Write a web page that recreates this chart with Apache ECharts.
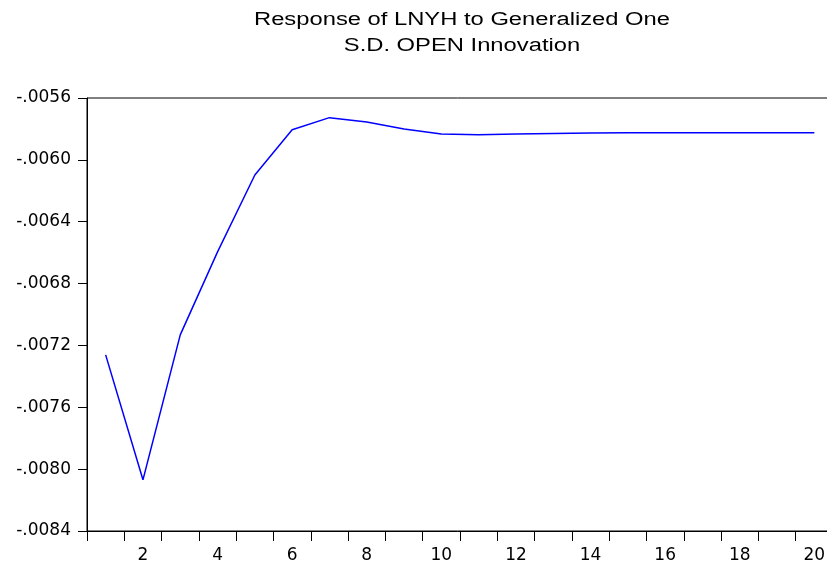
<!DOCTYPE html>
<html>
<head>
<meta charset="utf-8">
<title>Response of LNYH</title>
<script src="https://cdn.jsdelivr.net/npm/echarts@6/dist/echarts.min.js"></script>
<style>
  html, body { margin: 0; padding: 0; background: #fff; }
  #chart { width: 827px; height: 565px; }
</style>
</head>
<body>
<div id="chart"></div>
<script>
// periods 1..20
const periods = ['1', '2', '3', '4', '5', '6', '7', '8', '9', '10',
  '11', '12', '13', '14', '15', '16', '17', '18', '19', '20']

// response values
const response = [
  -0.007261, -0.008069, -0.007132, -0.006595, -0.006098,
  -0.005805, -0.005727, -0.005755, -0.005800, -0.005833,
  -0.005837, -0.005833, -0.005829, -0.005826, -0.005824,
  -0.005824, -0.005824, -0.005824, -0.005824, -0.005824
]

const titleLines = ['Response of LNYH to Generalized One', 'S.D. OPEN Innovation']

const yMin = -0.0084
const yMax = -0.0056
const yStep = 0.0004

const font = '"Liberation Sans", Arial, sans-serif'
const axisFont = '"DejaVu Sans", sans-serif'

// the source picture is stretched sideways, so the title is widened a bit
const titleText = (str, y) => ({
  type: 'text',
  x: 462,
  y: y,
  scaleX: 1.32,
  style: {
    text: str,
    font: '18px ' + font,
    fill: '#000',
    align: 'center',
    verticalAlign: 'middle'
  }
})

const chart = echarts.init(document.getElementById('chart'))
chart.setOption({
  backgroundColor: '#fff',
  animation: false,
  graphic: [
    titleText(titleLines[0], 20),
    titleText(titleLines[1], 46)
  ],
  grid: {
    left: 87,
    top: 98,
    width: 746,
    height: 433,
    outerBoundsMode: 'none',
    containLabel: false,
    show: true,
    borderColor: '#000',
    borderWidth: 1,
    backgroundColor: 'transparent'
  },
  xAxis: {
    type: 'category',
    data: periods,
    boundaryGap: true,
    axisLine: { lineStyle: { color: '#000', width: 1 } },
    axisTick: {
      show: true,
      alignWithLabel: false,
      interval: 0,
      length: 10,
      lineStyle: { color: '#000' }
    },
    axisLabel: {
      interval: (idx) => idx % 2 === 1,
      margin: 16,
      fontFamily: axisFont,
      fontSize: 17,
      color: '#000'
    },
    splitLine: { show: false }
  },
  yAxis: {
    type: 'value',
    min: yMin,
    max: yMax,
    interval: yStep,
    axisLine: { show: true, lineStyle: { color: '#000', width: 1 } },
    axisTick: { show: true, length: 9, lineStyle: { color: '#000' } },
    axisLabel: {
      margin: 16,
      fontFamily: axisFont,
      fontSize: 17,
      color: '#000',
      padding: [0, 0, 5, 0],
      formatter: (v) => v.toFixed(4).replace('-0.', '-.')
    },
    splitLine: { show: false }
  },
  series: [
    {
      type: 'line',
      data: response,
      showSymbol: false,
      smooth: false,
      lineStyle: { color: '#0000ff', width: 1.5 },
      itemStyle: { color: '#0000ff' }
    }
  ]
})
</script>
</body>
</html>
